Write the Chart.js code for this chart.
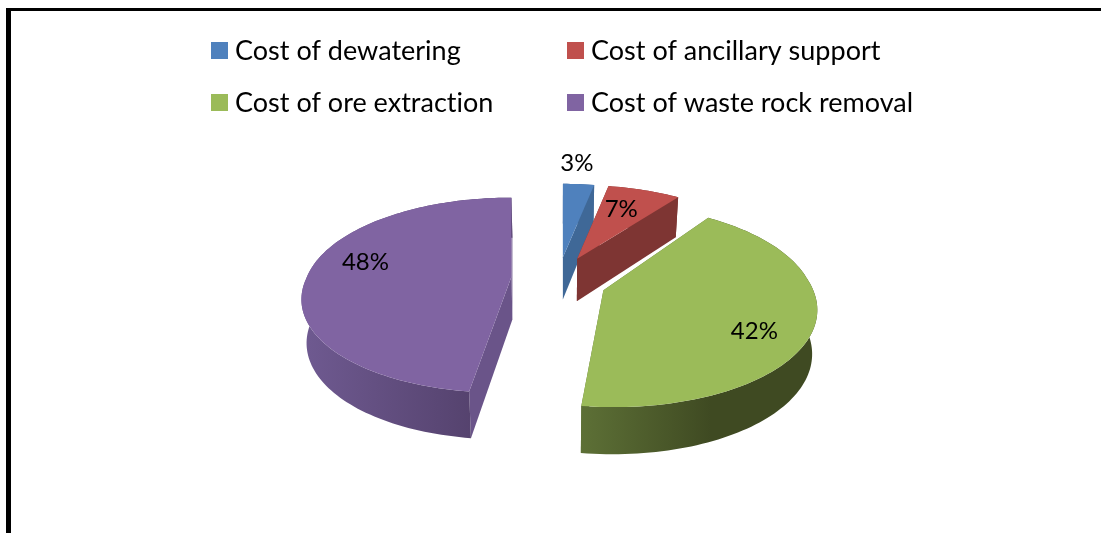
<!DOCTYPE html>
<html>
<head>
<meta charset="utf-8">
<style>
  html, body { margin: 0; padding: 0; background: #fff; overflow: hidden; }
  #wrap { position: relative; width: 1101px; height: 533px; }
  #frame { position: absolute; left: 6px; top: 8px; right: 0; bottom: 0; border-left: 5px solid #000; border-top: 3px solid #000; }
  canvas { position: absolute; left: 0; top: 0; }
</style>
</head>
<body>
<div id="wrap">
  <div id="frame"></div>
  <canvas id="chart" width="1101" height="533"></canvas>
</div>
<script src="https://cdn.jsdelivr.net/npm/chart.js@4"></script>
<script>
const categories = ["Cost of dewatering", "Cost of ancillary support", "Cost of ore extraction", "Cost of waste rock removal"];
const shares = [3, 7, 42, 48];
const topColors = ["#4f81bd", "#c0504d", "#9bbb59", "#8064a2"];
const edgeColors = ["#3f6897", "#7e3533", "#5d7036", "#6a5489"];
const wallFrom = ["#3f6897", "#7e3533", "#5d7036", "#6f5a91"];
const wallTo = ["#3f6897", "#7e3533", "#3f4a22", "#4f3d66"];

// camera for the tilted pie
const CX = 558.5, CY = 278, A = 205, B = 94.5, P = 0.19, DEPTH = 43;
const EXPLODE = 0.23;

// label position relative to the point of its slice
const labelShift = [[14, -94], [44, -50], [151, 41], [-146, -14]];
const legendSpots = [[211, 42], [567, 42], [211, 94], [567, 94]];

// (u, v) on the unit pie, (ou, ov) the slice's pull-out
function project(u, v, ou, ov, z) {
    const w = 1 - P * (v + ov);
    let x = CX + A * u / w + A * ou / Math.min(w, 1);
    let y = CY + B * (v + ov) / w;
    if (z) {
        x = CX + (x - CX) * 0.98;
        y += DEPTH / Math.pow(w, 0.4);
    }
    return [x, y];
}

function pullOut(arc) {
    const mid = (arc.startAngle + arc.endAngle) / 2;
    return [Math.cos(mid) * EXPLODE, Math.sin(mid) * EXPLODE];
}

function tipOf(arc, z) {
    const [ou, ov] = pullOut(arc);
    // front slice point sits a little lower in the picture
    return project(0, 0, ou, ov > 0 ? ov * 1.5 : ov, z);
}

function tracePoly(ctx, pts) {
    ctx.beginPath();
    pts.forEach((p, i) => (i ? ctx.lineTo(p[0], p[1]) : ctx.moveTo(p[0], p[1])));
    ctx.closePath();
}

const tiltedPie = {
    id: "tiltedPie",
    beforeDatasetDraw(chart, args) {
        const ctx = chart.ctx;
        const arcs = args.meta.data;
        // back slices first
        [0, 1, 3, 2].forEach((i) => {
            const arc = arcs[i];
            const [ou, ov] = pullOut(arc);
            const steps = Math.max(4, Math.ceil((arc.endAngle - arc.startAngle) * 40));
            const rim = [];
            const rimLow = [];
            for (let s = 0; s <= steps; s++) {
                const a = arc.startAngle + (arc.endAngle - arc.startAngle) * s / steps;
                rim.push(project(Math.cos(a), Math.sin(a), ou, ov, 0));
                rimLow.push(project(Math.cos(a), Math.sin(a), ou, ov, 1));
            }
            const tip = tipOf(arc, 0);
            const tipLow = tipOf(arc, 1);

            ctx.save();
            // cut faces
            ctx.fillStyle = edgeColors[i];
            tracePoly(ctx, [tip, rim[0], rimLow[0], tipLow]);
            ctx.fill();
            tracePoly(ctx, [tip, rim[steps], rimLow[steps], tipLow]);
            ctx.fill();

            // outer wall
            const xs = rim.map((p) => p[0]);
            const grad = ctx.createLinearGradient(Math.min(...xs), 0, i === 2 ? Math.min(...xs) + 130 : Math.max(...xs), 0);
            grad.addColorStop(0, wallFrom[i]);
            grad.addColorStop(1, wallTo[i]);
            ctx.fillStyle = grad;
            tracePoly(ctx, rim.concat(rimLow.slice().reverse()));
            ctx.fill();

            // top
            ctx.fillStyle = arc.options.backgroundColor;
            tracePoly(ctx, [tip].concat(rim));
            ctx.fill();
            ctx.restore();
        });
        return false;
    },
    afterDatasetsDraw(chart) {
        const ctx = chart.ctx;
        const arcs = chart.getDatasetMeta(0).data;
        const total = shares.reduce((a, b) => a + b, 0);
        ctx.save();
        ctx.letterSpacing = "0.01px"; // keeps "ti" from joining up
        ctx.fillStyle = "#000";
        ctx.font = "24px Lato";
        ctx.textAlign = "center";
        ctx.textBaseline = "middle";
        arcs.forEach((arc, i) => {
            const tip = tipOf(arc, 0);
            const label = Math.round(shares[i] / total * 100) + "%";
            ctx.fillText(label, tip[0] + labelShift[i][0], tip[1] + labelShift[i][1]);
        });

        // legend
        ctx.textAlign = "left";
        ctx.textBaseline = "alphabetic";
        ctx.font = "27px Lato";
        categories.forEach((name, i) => {
            const [x, y] = legendSpots[i];
            ctx.fillStyle = topColors[i];
            ctx.fillRect(x, y, 17, 17);
            ctx.fillStyle = "#000";
            ctx.fillText(name, x + 24, y + 18);
        });
        ctx.restore();
    },
};

new Chart(document.getElementById("chart"), {
    type: "pie",
    data: {
        labels: categories,
        datasets: [{ data: shares, backgroundColor: topColors, borderWidth: 0 }],
    },
    options: {
        responsive: false,
        animation: false,
        plugins: {
            legend: { display: false },
            tooltip: { enabled: false },
        },
    },
    plugins: [tiltedPie],
});
</script>
</body>
</html>
